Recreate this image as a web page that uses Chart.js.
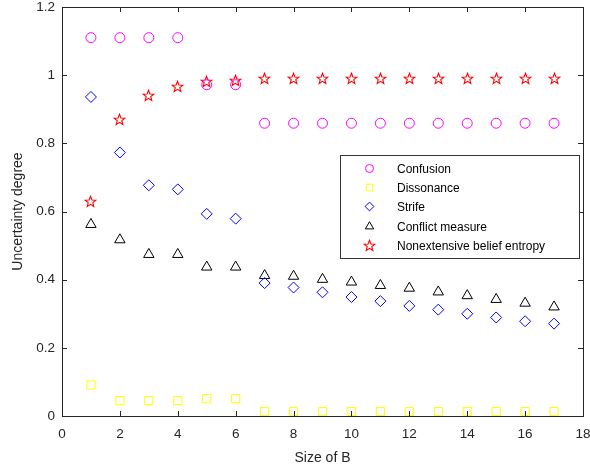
<!DOCTYPE html>
<html>
<head>
<meta charset="utf-8">
<script src="https://cdn.jsdelivr.net/npm/chart.js@4.4.1/dist/chart.umd.min.js"></script>
<style>
  html, body { margin: 0; padding: 0; background: #fff; }
  #wrap { width: 590px; height: 471px; position: relative; }
</style>
</head>
<body>
<div id="wrap"><canvas id="chart"></canvas></div>
<script>
/* ─── Data ───────────────────────────────────────────────────────────────── */
const SIZES = [1, 2, 3, 4, 5, 6, 7, 8, 9, 10, 11, 12, 13, 14, 15, 16, 17];

const CONFUSION  = [1.11, 1.11, 1.11, 1.11, 0.972, 0.972, 0.859, 0.859, 0.859, 0.859, 0.859, 0.859, 0.859, 0.859, 0.859, 0.859, 0.859];
const DISSONANCE = [0.091, 0.045, 0.045, 0.045, 0.051, 0.051, 0.013, 0.013, 0.013, 0.013, 0.013, 0.013, 0.013, 0.013, 0.013, 0.013, 0.013];
const STRIFE     = [0.936, 0.773, 0.677, 0.665, 0.593, 0.579, 0.390, 0.377, 0.363, 0.349, 0.337, 0.323, 0.312, 0.300, 0.289, 0.278, 0.271];
const CONFLICT   = [0.562, 0.517, 0.474, 0.474, 0.437, 0.437, 0.412, 0.410, 0.401, 0.393, 0.383, 0.375, 0.364, 0.353, 0.342, 0.331, 0.320];
const NONEXT     = [0.630, 0.871, 0.940, 0.968, 0.980, 0.983, 0.989, 0.989, 0.989, 0.989, 0.989, 0.989, 0.989, 0.989, 0.989, 0.989, 0.989];

const X_TICKS = [0, 2, 4, 6, 8, 10, 12, 14, 16, 18];
const Y_TICKS = [0, 0.2, 0.4, 0.6, 0.8, 1, 1.2];

const FONT = 'Liberation Sans, Arial, Helvetica, sans-serif';
const AXIS_COLOR = '#262626';

/* ─── Five-point star marker (Chart.js 'star' is an asterisk) ───────────── */
function makeStar(color) {
  const c = document.createElement('canvas');
  c.width = 13; c.height = 13;
  const g = c.getContext('2d');
  const cx = 6.5, cy = 6.9, ro = 5.6, ri = 2.4;
  g.beginPath();
  for (let i = 0; i < 10; i++) {
    const r = i % 2 ? ri : ro;
    const a = -Math.PI / 2 + i * Math.PI / 5;
    g.lineTo(cx + r * Math.cos(a), cy + r * Math.sin(a));
  }
  g.closePath();
  g.strokeStyle = color;
  g.lineWidth = 1.1;
  g.stroke();
  return c;
}
const starImg = makeStar('#ff0000');

const SERIES = [
  { label: 'Confusion',                   data: CONFUSION,  color: '#ff00ff', style: 'circle',   r: 5 },
  { label: 'Dissonance',                  data: DISSONANCE, color: '#ffff00', style: 'rect',     r: 5.8 },
  { label: 'Strife',                      data: STRIFE,     color: '#0000ff', style: 'rectRot',  r: 5.5 },
  { label: 'Conflict measure',            data: CONFLICT,   color: '#000000', style: 'triangle', r: 6 },
  { label: 'Nonextensive belief entropy', data: NONEXT,     color: '#ff0000', style: starImg,    r: 6 }
];

/* ─── Plugins ───────────────────────────────────────────────────────────── */
// snap image markers to the pixel grid so the star stays crisp
const snapImages = {
  id: 'snapImages',
  beforeDatasetsDraw(chart) {
    chart.data.datasets.forEach((ds, i) => {
      if (typeof ds.pointStyle === 'string') return;
      chart.getDatasetMeta(i).data.forEach(el => {
        el.x = Math.floor(el.x) + 0.5;
        el.y = Math.floor(el.y) + 0.5;
      });
    });
  }
};

const boxPlugin = {
  id: 'box',
  afterDraw(chart) {
    const { ctx, chartArea: a, scales: { x, y } } = chart;
    ctx.save();
    ctx.strokeStyle = AXIS_COLOR;
    ctx.lineWidth = 1;
    ctx.strokeRect(Math.round(a.left) + 0.5, Math.round(a.top) + 0.5,
                   Math.round(a.right - a.left), Math.round(a.bottom - a.top));
    ctx.beginPath();
    const t = 5;
    X_TICKS.forEach(v => {
      const px = Math.round(x.getPixelForValue(v)) + 0.5;
      ctx.moveTo(px, a.bottom); ctx.lineTo(px, a.bottom - t);
      ctx.moveTo(px, a.top);    ctx.lineTo(px, a.top + t);
    });
    Y_TICKS.forEach(v => {
      const py = Math.round(y.getPixelForValue(v)) + 0.5;
      ctx.moveTo(a.left, py);  ctx.lineTo(a.left + t, py);
      ctx.moveTo(a.right, py); ctx.lineTo(a.right - t, py);
    });
    ctx.stroke();
    ctx.restore();
  }
};

const insetLegend = {
  id: 'insetLegend',
  afterDraw(chart) {
    const { ctx } = chart;
    const bx = 340, by = 155, bw = 239, bh = 103;
    ctx.save();
    ctx.fillStyle = '#fff';
    ctx.fillRect(bx, by, bw, bh);
    ctx.strokeStyle = '#333';
    ctx.lineWidth = 1;
    ctx.strokeRect(bx + 0.5, by + 0.5, bw, bh);
    ctx.font = '12px ' + FONT;
    ctx.textBaseline = 'middle';
    chart.data.datasets.forEach((ds, i) => {
      const yy = Math.round(168 + i * 19.2) + 0.5;
      ctx.strokeStyle = ds.pointBorderColor;
      ctx.fillStyle = 'rgba(0,0,0,0)';
      ctx.lineWidth = 1;
      Chart.helpers.drawPoint(ctx, {
        pointStyle: ds.pointStyle,
        radius: ds.pointRadius * 0.8,
        borderWidth: 1,
        rotation: 0
      }, 369.5, yy);
      ctx.fillStyle = '#000';
      ctx.fillText(ds.label, 397, yy + 1);
    });
    ctx.restore();
  }
};

/* ─── Chart ─────────────────────────────────────────────────────────────── */
new Chart(document.getElementById('chart'), {
  type: 'scatter',
  data: {
    datasets: SERIES.map(s => ({
      label: s.label,
      data: SIZES.map((xv, i) => ({ x: xv, y: s.data[i] })),
      pointStyle: s.style,
      pointRadius: s.r,
      pointBorderWidth: 1,
      borderColor: s.color,
      pointBorderColor: s.color,
      backgroundColor: 'rgba(0,0,0,0)',
      pointBackgroundColor: 'rgba(0,0,0,0)',
      showLine: false
    }))
  },
  options: {
    responsive: true,
    maintainAspectRatio: false,
    animation: false,
    events: [],
    layout: { padding: { top: 6, right: 7, left: 0, bottom: 0 } },
    plugins: {
      legend: { display: false },
      tooltip: { enabled: false }
    },
    scales: {
      x: {
        type: 'linear',
        min: 0, max: 18,
        afterBuildTicks: s => { s.ticks = X_TICKS.map(v => ({ value: v })); },
        afterFit: s => { s.height = 55; s.paddingLeft = 0; s.paddingRight = 0; },
        grid: { display: false, drawTicks: false },
        border: { display: false },
        ticks: { color: AXIS_COLOR, font: { family: FONT, size: 13.5 }, padding: 10, maxRotation: 0 },
        title: { display: true, text: 'Size of B', color: AXIS_COLOR, font: { family: FONT, size: 14 }, padding: { top: 3 } }
      },
      y: {
        type: 'linear',
        min: 0, max: 1.2,
        afterBuildTicks: s => { s.ticks = Y_TICKS.map(v => ({ value: v })); },
        afterFit: s => { s.width = 62; s.paddingTop = 0; s.paddingBottom = 0; },
        grid: { display: false, drawTicks: false },
        border: { display: false },
        ticks: {
          color: AXIS_COLOR, font: { family: FONT, size: 13.5 }, padding: 7,
          callback: v => String(+v.toFixed(1))
        },
        title: { display: true, text: 'Uncertainty degree', color: AXIS_COLOR, font: { family: FONT, size: 14 }, padding: { top: 10, bottom: 0 } }
      }
    }
  },
  plugins: [snapImages, boxPlugin, insetLegend]
});
</script>
</body>
</html>
